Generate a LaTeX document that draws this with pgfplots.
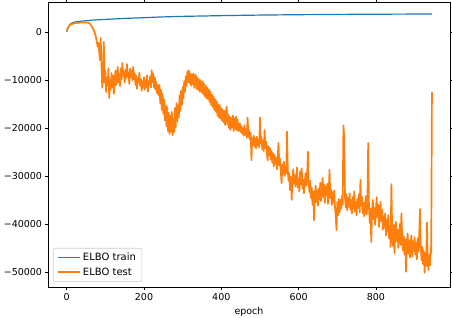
\documentclass[border=0pt]{standalone}
\usepackage{fontspec}
\setmainfont{DejaVu Sans}
\usepackage{pgfplots}
\pgfplotsset{compat=1.18}
\definecolor{mplblue}{HTML}{1F77B4}
\definecolor{mplorange}{HTML}{FF7F0E}
\begin{document}
\begin{tikzpicture}
\begin{axis}[
 scale only axis, width=402bp, height=285bp,
 xmin=-48.4, xmax=991.7, ymin=-53170, ymax=6330,
 axis line style={line width=0.6bp},
 tick align=outside, major tick length=2.5bp,
 tick style={line width=0.6bp, black},
 xtick={0,200,400,600,800},
 ytick={-50000,-40000,-30000,-20000,-10000,0},
 yticklabels={−50000,−40000,−30000,−20000,−10000,0},
 scaled ticks=false,
 /pgf/number format/assume math mode=true,
 ticklabel style={font=\fontsize{9.5bp}{11bp}\selectfont},
 xlabel={epoch},
 xlabel style={font=\fontsize{9.5bp}{11bp}\selectfont, at={(axis description cs:0.5,-0.0877)}, anchor=center},
 legend style={at={(axis description cs:0.0124,0.0175)}, anchor=south west, draw=black!20, rounded corners=2bp, fill=white, fill opacity=0.8, text opacity=1, font=\fontsize{10bp}{12bp}\selectfont, inner xsep=4bp, inner ysep=3bp, row sep=1.5bp, line width=0.6bp},
 legend cell align=left,
 legend image code/.code={\draw[#1] (0bp,0bp) -- (22bp,0bp);},
]
\addplot[mplblue, line width=1.2bp, line join=round] coordinates {
(0,100) (3,800) (6,1300) (9,1700) (15,2000) (25,2200) (40,2350) (68,2550) (100,2700) (150,2900) (200,3050) (241,3200) (300,3330) (400,3480) (500,3600) (600,3680) (700,3740) (800,3780) (900,3810) (945,3820)
};
\addlegendentry{ELBO train}
\addplot[mplorange, line width=1.7bp, line join=round] coordinates {
(0,300) (3,900) (6,1300) (10,1600) (15,1800) (20,1900) (30,2000) (40,2050) (50,2050) (56,2000) (60,1800) (65,1200) (70,500) (73,-200) (77,-1500) (80,-3000) (82,-2200) (84,-4000) (86,-5800) (88,-1200) (90,-7000) (92,-11600) (94,-9000) (96,-2000)
(98,-10500) (100,-8000) (102,-12500) (104,-9500) (106,-11000) (108,-7500) (110,-13700) (112,-10000) (114,-12000) (116,-8500) (118,-11500) (120,-9000) (122,-12800) (124,-10500) (126,-8000) (128,-11000) (130,-9500) (132,-7200) (134,-10500) (136,-8800) (138,-11200) (140,-7500) (142,-9800) (144,-6400) (146,-9000) (148,-8200) (150,-10500) (152,-7800) (154,-9600) (156,-6600) (158,-9200) (160,-8400) (162,-10800) (164,-7600) (166,-9400) (168,-8000) (170,-10000) (172,-7200) (174,-9800) (176,-8600) (178,-11000) (180,-9000) (182,-11800) (184,-9600) (186,-10400) (188,-8400) (190,-11200) (192,-9800) (194,-12200) (196,-10200) (198,-11600) (200,-9400) (202,-12000) (204,-10000) (206,-11400) (208,-9000) (210,-12400) (212,-10200)
(214,-10800) (216,-9200) (218,-11500) (220,-7900) (222,-10400) (224,-8600) (226,-11600) (228,-9400) (230,-12000) (232,-10400) (234,-12800) (236,-11000) (238,-13200)
(240,-11000) (242,-14800) (244,-12000) (246,-16200) (248,-12800) (250,-17000) (252,-14000) (254,-18400) (256,-15200) (258,-19600) (260,-15600) (262,-20600) (264,-16800) (266,-21200) (268,-17400) (270,-20800) (272,-16600) (274,-21500) (276,-18000) (278,-20800) (280,-15800) (282,-19800) (284,-14800) (286,-18600) (288,-15200) (290,-17800) (292,-13200) (294,-16400) (296,-12200) (298,-15200) (300,-11400) (302,-13800) (304,-10200) (306,-12400) (308,-9200) (310,-11200) (312,-8200) (314,-10400) (316,-7900) (318,-10600) (320,-8600) (322,-11200) (324,-8800) (326,-10800) (328,-8600) (330,-11600) (332,-9600) (334,-8800) (336,-11800) (338,-9400) (340,-12000) (342,-9800) (344,-12400) (346,-10000) (348,-11600) (350,-12600) (352,-10200) (354,-13000) (356,-10800) (358,-13400) (360,-11200) (362,-13800) (364,-11600) (366,-14000) (368,-12000) (370,-14600) (372,-12400) (374,-15200) (376,-13000) (378,-15600) (380,-13400) (382,-16200) (384,-14000) (386,-16600) (388,-14400) (390,-17400) (392,-15000) (394,-17800) (396,-15200) (398,-18000) (400,-15800) (402,-18400) (404,-16200) (406,-18800) (408,-16400) (410,-19400) (412,-17000) (414,-15500) (416,-19200) (418,-17200) (420,-20000) (422,-17600) (424,-20400) (426,-17800) (428,-19800) (430,-17400) (432,-20600) (434,-18000) (436,-20200) (438,-17600) (440,-20400) (442,-18200) (444,-20600)
(446,-20400) (448,-19000) (450,-20800) (452,-19600) (454,-21200) (456,-20000) (458,-21600) (460,-19400) (462,-21400) (464,-20200) (466,-22000) (468,-17800) (470,-21800) (472,-20600) (474,-22400) (476,-21000) (478,-26700) (480,-22000) (482,-23400) (484,-21600) (486,-23800) (488,-22200) (490,-24200) (492,-21800) (494,-23600) (496,-22400) (498,-24000) (500,-17800) (502,-23200) (504,-21800) (506,-24400) (508,-22600) (510,-24800) (512,-20400) (514,-24000) (516,-22800) (518,-25400) (520,-26700) (522,-23800) (524,-25600) (526,-24200) (528,-26600) (530,-24800) (532,-27200) (534,-25200) (536,-28000) (538,-25600) (540,-27400) (542,-26200) (544,-28600) (546,-25800) (548,-23100) (550,-27800) (552,-26400) (554,-29200) (556,-31500) (558,-27600) (560,-29600) (562,-27000) (564,-30000) (566,-28200) (568,-29400) (570,-20700) (572,-28800) (574,-31000) (576,-29400) (578,-33000) (580,-30200) (582,-35000) (584,-30800) (586,-28600) (588,-31600) (590,-29800) (592,-32200) (594,-30400) (596,-28200) (598,-32400) (600,-30600)
(602,-33200) (604,-29000) (606,-31800) (608,-28400) (610,-32600) (612,-30800) (614,-33600) (616,-31200) (618,-29400) (620,-32000) (622,-30200) (624,-24900) (626,-31400) (628,-33400) (630,-31000) (632,-34600) (634,-32400) (636,-36000) (638,-33200) (640,-39200) (642,-34400) (644,-32000) (646,-35400) (648,-33000) (650,-36200) (652,-32600) (654,-34800) (656,-31400) (658,-35200) (660,-33000) (662,-30400) (664,-34400) (666,-31800) (668,-35600) (670,-32200) (672,-34000) (674,-31600) (676,-35800) (678,-33200) (680,-28700) (682,-34600) (684,-32800) (686,-36000) (688,-33400) (690,-35400) (692,-33000) (694,-36400) (696,-38200) (698,-41300) (700,-35400) (702,-38200) (704,-34800) (706,-37600) (708,-35000) (710,-36800) (712,-34200) (714,-36000) (716,-19400) (718,-22000) (720,-34400) (722,-36600) (724,-33800) (726,-37200) (728,-34600) (730,-36400) (732,-33600) (734,-37000) (736,-35000) (738,-37800) (740,-34400) (742,-36800) (744,-33200) (746,-37400) (748,-35400) (750,-38200) (752,-34800) (754,-36600) (756,-33800) (758,-37600) (760,-30800) (762,-36200) (764,-34400) (766,-37800) (768,-35600) (770,-38400) (772,-36000) (774,-34200) (776,-38000) (778,-35800) (780,-23100) (782,-36400) (784,-39800) (786,-36800) (788,-43800) (790,-37400) (792,-35000) (794,-39000) (796,-36600) (798,-40200) (800,-37200)
(802,-34400) (804,-38600) (806,-36000) (808,-40600) (810,-37800) (812,-35400) (814,-39400) (816,-37000) (818,-41200) (820,-38400) (822,-40800) (824,-37800) (826,-42400) (828,-39000) (830,-41600) (832,-38200) (834,-43000) (836,-40400) (838,-44800) (840,-31700) (842,-41000) (844,-44600) (846,-40200) (848,-46100) (850,-42000) (852,-39600) (854,-43600) (856,-41200) (858,-45000) (860,-42400) (862,-40000) (864,-44400) (866,-37800) (868,-43000) (870,-45600) (872,-42600) (874,-46400) (876,-43200) (878,-50000) (880,-44000) (882,-42000) (884,-46200) (886,-43400) (888,-47000) (890,-44200) (892,-42400) (894,-46800) (896,-43600) (898,-45600) (900,-42800) (902,-46400) (904,-44000) (906,-47400) (908,-43000) (910,-45800) (912,-42200) (914,-36900) (916,-44600) (918,-47600) (920,-44800) (922,-48400) (924,-45600) (926,-50200) (928,-46000) (930,-48800) (932,-39700) (934,-47200) (936,-49600) (938,-46400) (940,-48600) (942,-44800) (943,-46100) (945,-12500)
};
\addlegendentry{ELBO test}
\end{axis}
\pgfresetboundingbox
\path[use as bounding box] (current axis.south west) ++(-48bp,-31bp) rectangle ++(452bp,318bp);
\end{tikzpicture}
\end{document}
